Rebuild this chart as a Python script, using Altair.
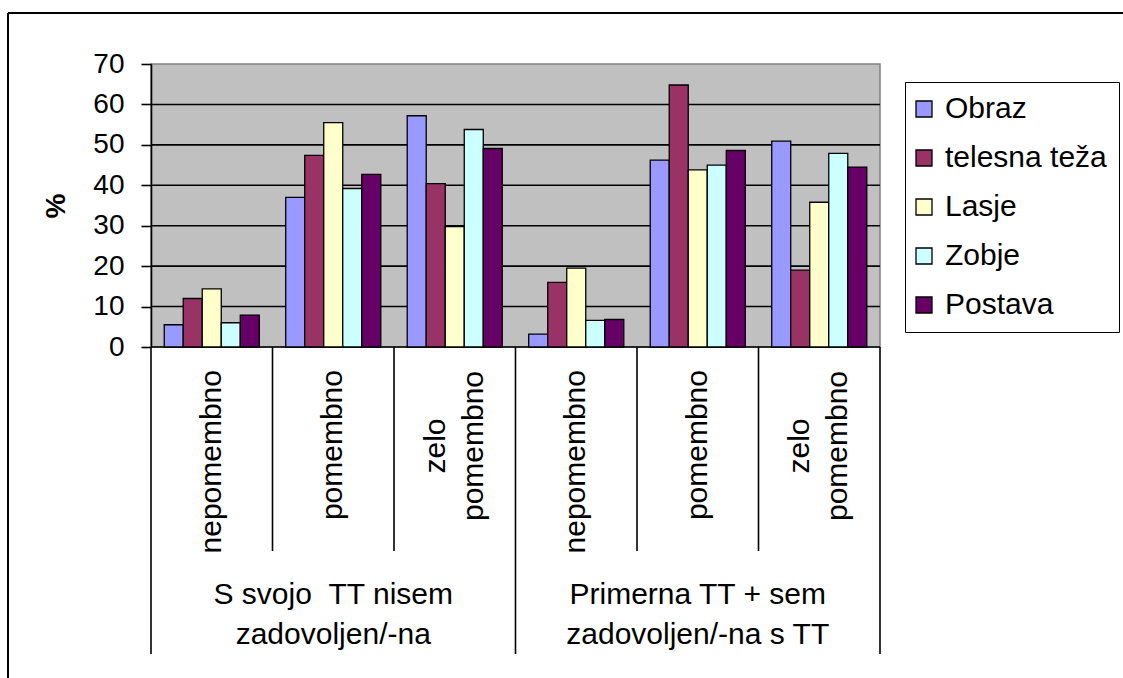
import altair as alt
import pandas as pd

# Series (legend order) and their fill colours
series = ["Obraz", "telesna teža", "\u00a0Lasje", "Zobje", "Postava"]
colors = ["#9999FF", "#993366", "#FFFFCC", "#CCFFFF", "#660066"]

# Two-level category axis
groups = ["S svojo \u00a0TT nisem\nzadovoljen/-na", "Primerna TT + sem\nzadovoljen/-na s TT"]
levels = ["nepomembno", "pomembno", "zelo\npomembno"]

# Percentages per category (group 1: three levels, group 2: three levels)
obraz = [5.5, 37.0, 57.2, 3.2, 46.2, 50.9]
telesna = [12.0, 47.4, 40.4, 16.0, 64.8, 19.0]
lasje = [14.4, 55.5, 29.8, 19.5, 43.8, 35.8]
zobje = [6.0, 39.2, 53.8, 6.6, 45.0, 47.9]
postava = [7.9, 42.7, 49.1, 6.8, 48.6, 44.5]

y_ticks = [0, 10, 20, 30, 40, 50, 60, 70]
grid_values = [0, 10, 20, 30, 40, 50, 60]

FONT = "Liberation Sans"
W, H = 729, 283
FS = 30

keys = [f"{gi}:{lv}" for gi in range(len(groups)) for lv in levels]
values_by_series = [obraz, telesna, lasje, zobje, postava]

rows = []
for s, vals in zip(series, values_by_series):
    for k, v in zip(keys, vals):
        rows.append({"key": k, "series": s, "value": v})
bars_df = pd.DataFrame(rows)

band = alt.Scale(paddingInner=0, paddingOuter=0)
x_enc = alt.X("key:N", sort=keys, scale=band, axis=None)
x_left = alt.X("key:N", sort=keys, bandPosition=0, scale=band, axis=None)
x_right = alt.X("key:N", sort=keys, bandPosition=1, scale=band, axis=None)

y_scale = alt.Scale(domain=[0, 70], nice=False)

# Horizontal gridlines (the 0 line doubles as the category baseline)
grid = alt.Chart(pd.DataFrame({"v": grid_values})).mark_rule(
    color="black", strokeWidth=1.6
).encode(y=alt.Y("v:Q", scale=y_scale))

bars = alt.Chart(bars_df).mark_bar(stroke="black", strokeWidth=1.3).encode(
    x=x_enc,
    xOffset=alt.XOffset("series:N", sort=series,
                        scale=alt.Scale(paddingInner=0, paddingOuter=0.695)),
    y=alt.Y("value:Q", scale=y_scale,
            axis=alt.Axis(values=y_ticks, grid=False, title="%",
                          domainColor="black", domainWidth=1.6,
                          tickColor="black", tickWidth=1.6, tickSize=10,
                          labelFont=FONT, labelFontSize=28, labelColor="black",
                          labelPadding=17,
                          titleFont=FONT, titleFontSize=28, titleFontWeight="bold",
                          titleColor="black", titlePadding=22)),
    color=alt.Color("series:N", sort=series,
                    scale=alt.Scale(domain=series, range=colors),
                    legend=alt.Legend(orient="none", legendX=754, legendY=18,
                                      title=None, labelFont=FONT, labelFontSize=FS,
                                      labelColor="black", labelOffset=6,
                                      labelLimit=400, symbolOffset=-8,
                                      symbolType="square", symbolSize=256,
                                      symbolStrokeColor="black", symbolStrokeWidth=1.3,
                                      strokeColor="black", fillColor="white",
                                      padding=12, rowPadding=19)),
)

# Category separators below the plot
minor_keys = [k for i, k in enumerate(keys) if i % 3 != 0]
major_keys = [k for i, k in enumerate(keys) if i % 3 == 0]

minor_sep = alt.Chart(pd.DataFrame({"key": minor_keys})).mark_rule(
    color="black", strokeWidth=1.6
).encode(x=x_left, y=alt.value(H), y2=alt.value(H + 204))

major_sep = alt.Chart(pd.DataFrame({"key": major_keys})).mark_rule(
    color="black", strokeWidth=1.6
).encode(x=x_left, y=alt.value(H), y2=alt.value(H + 307))

end_sep = alt.Chart(pd.DataFrame({"key": [keys[-1]]})).mark_rule(
    color="black", strokeWidth=1.6
).encode(x=x_right, y=alt.value(H), y2=alt.value(H + 307))

# Level labels (rotated)
lvl_rows = [{"key": k, "label": k.split(":", 1)[1]} for k in keys]
lvl_df = pd.DataFrame(lvl_rows)
single_df = lvl_df[~lvl_df["label"].str.contains("\n")]
multi_df = lvl_df[lvl_df["label"].str.contains("\n")]

lvl_single = alt.Chart(single_df).mark_text(
    angle=270, align="right", baseline="middle", font=FONT, fontSize=FS, color="black"
).encode(x=x_enc, y=alt.value(H + 23), text="label:N")

lvl_multi = alt.Chart(multi_df).mark_text(
    angle=270, align="center", baseline="middle", font=FONT, fontSize=FS,
    color="black", lineBreak="\n", lineHeight=38, dy=-19
).encode(x=x_enc, y=alt.value(H + 99), text="label:N")

# Group labels centred under each group of three
grp_df = pd.DataFrame({"key": [keys[1], keys[4]], "label": groups})
grp_text = alt.Chart(grp_df).mark_text(
    align="center", baseline="middle", font=FONT, fontSize=FS, color="black",
    lineBreak="\n", lineHeight=40
).encode(x=x_enc, y=alt.value(H + 248), text="label:N")

# Outer frame (top and left edges)
one = pd.DataFrame({"a": [0]})
frame_top = alt.Chart(one).mark_rule(color="black", strokeWidth=2).encode(
    x=alt.value(-143), x2=alt.value(1100), y=alt.value(-51))
frame_left = alt.Chart(one).mark_rule(color="black", strokeWidth=2).encode(
    x=alt.value(-143), y=alt.value(-51), y2=alt.value(700))

chart = alt.layer(
    grid, bars, minor_sep, major_sep, end_sep, lvl_single, lvl_multi, grp_text,
    frame_top, frame_left
).properties(
    width=W, height=H,
    padding={"left": 151, "top": 64, "right": 243, "bottom": 331},
    autosize=alt.AutoSizeParams(type="none"),
).configure(font=FONT, background="white").configure_view(
    fill="#C0C0C0", stroke="#808080", strokeWidth=1.5
)

chart.save("out.html", embed_options={"renderer": "svg", "actions": False})
